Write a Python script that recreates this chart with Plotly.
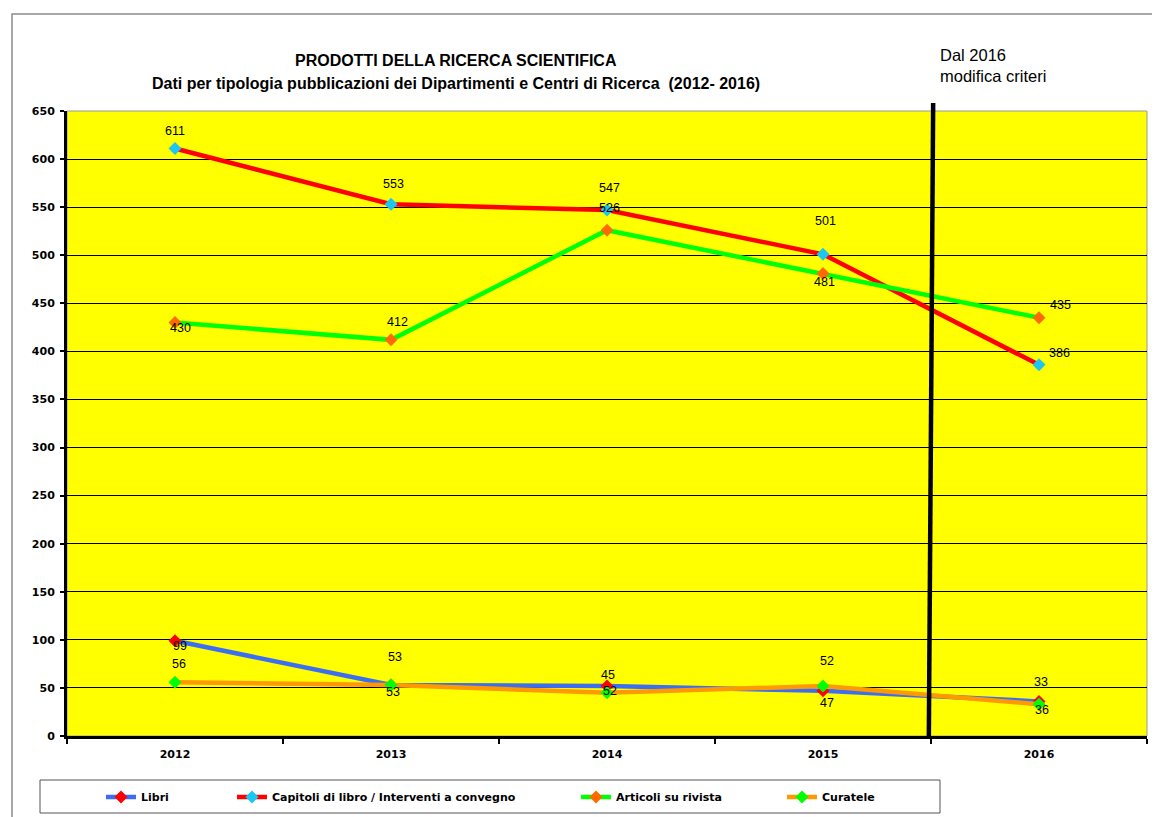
import plotly.graph_objects as go

years = ["2012", "2013", "2014", "2015", "2016"]
libri = [99, 53, 52, 47, 36]
capitoli = [611, 553, 547, 501, 386]
articoli = [430, 412, 526, 481, 435]
curatele = [56, 53, 45, 52, 33]

series_names = ["Libri", "Capitoli di libro / Interventi a convegno", "Articoli su rivista", "Curatele"]
y_ticks = list(range(0, 651, 50))

# style
line_colors = ["#3B6EF2", "#FF0000", "#00FF00", "#FF9900"]
marker_colors = ["#FF0000", "#1CC6F2", "#FF6A00", "#00FF00"]
# label pixel offsets (dx, dy) per point
label_offsets = [
    [(5, 5), (2, 7), (3, 5), (4, 12), (3, 9)],
    [(0, -18), (2, -20), (2, -22), (2, -33), (20, -12)],
    [(5, 5), (6, -18), (2, -22), (1, 8), (21, -13)],
    [(4, -18), (4, -28), (1, -18), (4, -25), (2, -22)],
]

OFF = 8  # page body margin
PL, PR, PT, PB = 67, 1147, 111, 736
W = PR - PL
H = PB - PT

def px(xp):
    return (xp - PL) / W

def py(yp):
    return (PB - yp) / H

fig = go.Figure()
all_series = [libri, capitoli, articoli, curatele]
legend_ids = ["legend", "legend2", "legend3", "legend4"]
for i, vals in enumerate(all_series):
    fig.add_trace(go.Scatter(
        x=years, y=vals, mode="lines+markers", name=series_names[i],
        line=dict(color=line_colors[i], width=4.5),
        marker=dict(symbol="diamond", size=10, color=marker_colors[i]),
        legend=legend_ids[i], cliponaxis=False,
    ))

label_font = dict(family="Liberation Sans, Arial, sans-serif", size=12.5, color="black")
annotations = []
for i, vals in enumerate(all_series):
    for j, v in enumerate(vals):
        dx, dy = label_offsets[i][j]
        annotations.append(dict(
            x=j, y=v, xref="x", yref="y", text=str(v), showarrow=False,
            xshift=dx, yshift=-dy, font=label_font,
        ))

title_font = dict(family="Liberation Sans, Arial, sans-serif", size=16, color="black")
note_font = dict(family="Liberation Sans, Arial, sans-serif", size=16.5, color="black")
annotations += [
    dict(x=px(456), y=py(60), xref="paper", yref="paper", showarrow=False,
         xanchor="center", yanchor="middle",
         text="<b>PRODOTTI DELLA RICERCA SCIENTIFICA</b>", font=title_font),
    dict(x=px(456), y=py(83), xref="paper", yref="paper", showarrow=False,
         xanchor="center", yanchor="middle",
         text="<b>Dati per tipologia pubblicazioni dei Dipartimenti e Centri di Ricerca  (2012- 2016)</b>", font=title_font),
    dict(x=px(938), y=py(55), xref="paper", yref="paper", showarrow=False,
         xanchor="left", yanchor="middle",
         text="Dal 2016", font=note_font),
    dict(x=px(938), y=py(76), xref="paper", yref="paper", showarrow=False,
         xanchor="left", yanchor="middle",
         text="modifica criteri", font=note_font),
]

shapes = [
    # outer frame
    dict(type="rect", xref="paper", yref="paper", x0=px(12), x1=px(1175), y0=py(830), y1=py(14),
         line=dict(color="#8C8C8C", width=1.5), layer="below"),
    # plot area border
    dict(type="rect", xref="paper", yref="paper", x0=0, x1=1, y0=0, y1=1,
         line=dict(color="#9A9A9A", width=1), layer="below"),
    # legend box
    dict(type="rect", xref="paper", yref="paper", x0=px(40), x1=px(940), y0=py(813), y1=py(780),
         line=dict(color="#555555", width=1)),
    # vertical separator
    dict(type="line", xref="x", yref="paper", x0=3.51, x1=3.49, y0=py(103), y1=0,
         line=dict(color="black", width=4.5)),
]

legend_font = dict(family="DejaVu Sans, Verdana, sans-serif", size=11, color="black", weight="bold")
legend_starts = [101, 232, 576, 782]
legend_cfg = {}
for k, lid in enumerate(legend_ids):
    legend_cfg[lid] = dict(
        x=px(legend_starts[k]), y=py(797), xanchor="left", yanchor="middle", xref="paper", yref="paper",
        orientation="h", bgcolor="rgba(0,0,0,0)", borderwidth=0, font=legend_font,
        itemclick=False, itemdoubleclick=False,
    )

fig.update_layout(
    width=1160 - OFF, height=817 - OFF,
    margin=dict(l=PL - OFF, r=1160 - PR, t=PT - OFF, b=817 - PB, autoexpand=False),
    paper_bgcolor="white", plot_bgcolor="#FFFF00",
    showlegend=True,
    annotations=annotations, shapes=shapes,
    **legend_cfg,
)
fig.update_xaxes(
    type="category", range=[-0.5, 4.5], tickson="boundaries",
    ticks="outside", ticklen=5, tickwidth=2, tickcolor="black",
    showline=True, linecolor="black", linewidth=3, showgrid=False,
    ticklabelstandoff=6, automargin=False,
    tickfont=dict(family="DejaVu Sans, Verdana, sans-serif", size=11, color="black", weight="bold"),
    fixedrange=True,
)
fig.update_yaxes(
    range=[0, 650], tickvals=y_ticks, ticks="outside", ticklen=4, tickwidth=1.5, tickcolor="black",
    showline=True, linecolor="black", linewidth=3, showgrid=True, gridcolor="black", gridwidth=1,
    zeroline=False, ticklabelstandoff=3, automargin=False,
    tickfont=dict(family="DejaVu Sans, Verdana, sans-serif", size=11, color="black", weight="bold"),
    fixedrange=True,
)

fig.write_html("out.html")
